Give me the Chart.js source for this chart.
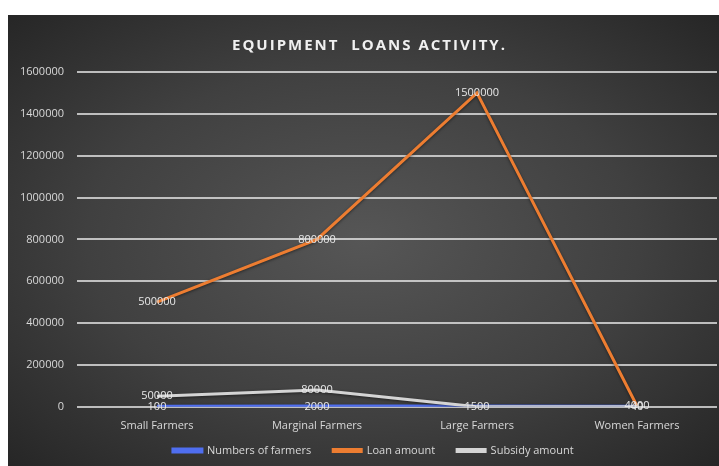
<!DOCTYPE html>
<html>
<head>
<meta charset="utf-8">
<script src="https://cdn.jsdelivr.net/npm/chart.js@4"></script>
<style>
  body { margin: 0; background: #ffffff; }
  #box {
    position: absolute; left: 8px; top: 15px; width: 711px; height: 451px;
    background: radial-gradient(ellipse at 50% 50%, #565656 0%, #404040 55%, #262626 100%);
  }
</style>
</head>
<body>
<div id="box"><canvas id="chart" width="711" height="451"></canvas></div>
<script>
// Chart data
const categories = ['Small Farmers', 'Marginal Farmers', 'Large Farmers', 'Women Farmers'];
const farmersCount = [100, 2000, 1500, 40];
const loanAmount = [500000, 800000, 1500000, 4000];
const subsidyAmount = [50000, 80000, 0, 0];
const yTicks = [0, 200000, 400000, 600000, 800000, 1000000, 1200000, 1400000, 1600000];
const titleText = 'EQUIPMENT  LOANS ACTIVITY.';

// draw the value next to every point (like excel data labels)
const valueLabels = {
  id: 'valueLabels',
  afterDatasetsDraw(chart) {
    const ctx = chart.ctx;
    ctx.save();
    ctx.font = '11px "Open Sans"';
    ctx.fillStyle = '#e8e8e8';
    ctx.textAlign = 'center';
    ctx.textBaseline = 'middle';
    chart.data.datasets.forEach((ds, i) => {
      chart.getDatasetMeta(i).data.forEach((pt, j) => {
        if (ds.data[j] === 0) return;
        ctx.fillText(String(ds.data[j]), pt.x, pt.y);
      });
    });
    ctx.restore();
  }
};

// soft shadow under the lines
const lineShadow = {
  id: 'lineShadow',
  beforeDatasetDraw(chart) {
    const ctx = chart.ctx;
    ctx.save();
    ctx.shadowColor = 'rgba(0,0,0,0.5)';
    ctx.shadowBlur = 3;
    ctx.shadowOffsetY = 1;
  },
  afterDatasetDraw(chart) {
    chart.ctx.restore();
  }
};

// pull the legend up a bit so its wide item gaps don't cost plot height
// (only top moves, bottom stays so the text isn't clipped); also shift it right
const legendNudge = {
  id: 'legendNudge',
  afterLayout(chart) {
    chart.legend.top -= 13;
    chart.legend.left += 11;
    chart.legend.right += 11;
  }
};

// title with letter spacing, drawn in the space the title block reserves
const spacedTitle = {
  id: 'spacedTitle',
  afterDraw(chart) {
    const tb = chart.titleBlock;
    if (!tb) return;
    const ctx = chart.ctx;
    ctx.save();
    ctx.font = 'bold 15px "Open Sans"';
    ctx.letterSpacing = '2px';
    ctx.fillStyle = '#f0f0f0';
    ctx.textAlign = 'left';
    ctx.textBaseline = 'middle';
    const w = ctx.measureText(titleText).width;
    ctx.fillText(titleText, chart.width / 2 - w / 2 + 6, tb.top + 8 + 11);
    ctx.restore();
  }
};

const ctx = document.getElementById('chart').getContext('2d');

const chart = new Chart(ctx, {
  type: 'line',
  data: {
    labels: categories,
    datasets: [
      {
        label: 'Numbers of farmers',
        data: farmersCount,
        borderColor: '#4f6ef0',
        backgroundColor: '#4f6ef0',
        borderWidth: 4,
        pointRadius: 0,
        tension: 0,
        order: 3,
      },
      {
        label: 'Loan amount',
        data: loanAmount,
        borderColor: '#ed7d31',
        backgroundColor: '#ed7d31',
        borderWidth: 3,
        pointRadius: 0,
        tension: 0,
        order: 2,
      },
      {
        label: 'Subsidy amount',
        data: subsidyAmount,
        borderColor: '#d4d4d4',
        backgroundColor: '#d4d4d4',
        borderWidth: 3,
        pointRadius: 0,
        tension: 0,
        order: 1,
      },
    ],
  },
  options: {
    responsive: false,
    animation: false,
    layout: { padding: { left: 0, right: 2, top: 12, bottom: 0 } },
    scales: {
      x: {
        offset: true,
        grid: { display: false },
        border: { display: false },
        ticks: { color: '#d8d8d8', font: { family: 'Open Sans', size: 11 }, padding: 4 },
      },
      y: {
        min: 0,
        max: 1600000,
        afterBuildTicks: (scale) => { scale.ticks = yTicks.map((v) => ({ value: v })); },
        afterFit: (scale) => { scale.width = 69; },
        grid: { color: 'rgba(235,235,235,0.75)', lineWidth: 2, drawTicks: false },
        border: { display: false },
        ticks: {
          color: '#d8d8d8',
          font: { family: 'Open Sans', size: 11 },
          padding: 13,
          callback: (v) => String(v),
        },
      },
    },
    plugins: {
      legend: {
        position: 'bottom',
        maxHeight: 30,
        labels: {
          color: '#d8d8d8',
          font: { family: 'Open Sans', size: 11 },
          boxWidth: 28,
          boxHeight: 2,
          padding: 22,
          sort: (a, b) => a.datasetIndex - b.datasetIndex,
        },
      },
      title: {
        display: true,
        text: titleText,
        color: 'rgba(0,0,0,0)',
        font: { family: 'Open Sans', size: 15, weight: 'bold' },
        padding: { top: 8, bottom: 19 },
      },
      tooltip: { enabled: false },
    },
  },
  plugins: [lineShadow, valueLabels, spacedTitle, legendNudge],
});
</script>
</body>
</html>
